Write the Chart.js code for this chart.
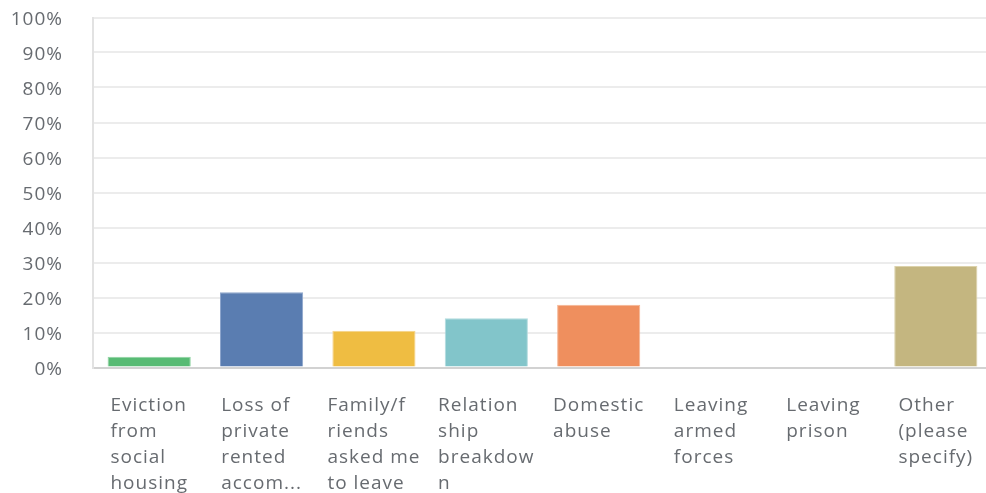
<!DOCTYPE html>
<html>
<head>
<meta charset="utf-8">
<script src="https://cdn.jsdelivr.net/npm/chart.js@4/dist/chart.umd.min.js"></script>
<style>
  html, body { margin: 0; padding: 0; background: #fff; overflow: hidden; }
  #wrap { width: 1000px; height: 493px; position: relative; }
</style>
</head>
<body>
<div id="wrap"><canvas id="reasonsChart"></canvas></div>
<script>
// answer options (already wrapped, one string per line)
const categories = [
    ['Eviction', 'from', 'social', 'housing'],
    ['Loss of', 'private', 'rented', 'accom...'],
    ['Family/f', 'riends', 'asked me', 'to leave'],
    ['Relation', 'ship', 'breakdow', 'n'],
    ['Domestic', 'abuse'],
    ['Leaving', 'armed', 'forces'],
    ['Leaving', 'prison'],
    ['Other', '(please', 'specify)']
];
const responsePct = [3.1, 21.5, 10.5, 14.1, 17.9, 0, 0, 29.0];
const barColors = ['#58bb74', '#5a7db1', '#efbd42', '#82c5ca', '#ef8f5e', '#9aa5b4', '#8e8ab8', '#c4b680'];
const barEdges = ['#8fd3a2', '#8ea7cc', '#f5d488', '#b1dbde', '#f5b796', '#c4cbd4', '#bdbad6', '#dcd2ab'];
const yTicks = [0, 10, 20, 30, 40, 50, 60, 70, 80, 90, 100];

const fontFamily = '"Open Sans", "Noto Sans", sans-serif';
const labelFont = '19px ' + fontFamily;
const textGrey = '#676b70';

// a little extra tracking for all text on the canvas
const tracking = {
    id: 'tracking',
    beforeDraw(chart) { chart.ctx.letterSpacing = '1px'; }
};

// multi-line category labels: each block left aligned, centred under its bar
const wrappedLabels = {
    id: 'wrappedLabels',
    afterDraw(chart) {
        const ctx = chart.ctx;
        const xScale = chart.scales.x;
        ctx.save();
        ctx.letterSpacing = '1px';
        ctx.font = labelFont;
        ctx.fillStyle = textGrey;
        ctx.textAlign = 'left';
        ctx.textBaseline = 'middle';
        categories.forEach((lines, i) => {
            const w = Math.max(...lines.map(l => ctx.measureText(l).width));
            const x0 = xScale.getPixelForValue(i) - w / 2;
            lines.forEach((line, k) => {
                ctx.fillText(line, x0, chart.chartArea.bottom + 38.5 + k * 26);
            });
        });
        ctx.restore();
    }
};

new Chart(document.getElementById('reasonsChart'), {
    type: 'bar',
    data: {
        labels: categories.map(c => c.join(' ')),
        datasets: [{
            data: responsePct,
            backgroundColor: barColors,
            borderColor: barEdges,
            borderWidth: 1,
            categoryPercentage: 1,
            barPercentage: 0.74
        }]
    },
    options: {
        responsive: true,
        maintainAspectRatio: false,
        animation: false,
        layout: { padding: { top: 17.5, right: 8, bottom: 0, left: 0 } },
        plugins: { legend: { display: false }, tooltip: { enabled: false } },
        scales: {
            x: {
                grid: { display: false },
                border: { display: true, color: '#d2d2d2', width: 2 },
                ticks: { display: false },
                afterFit(scale) { scale.height = 125.5; }
            },
            y: {
                min: 0,
                max: 100,
                afterBuildTicks(scale) { scale.ticks = yTicks.map(v => ({ value: v })); },
                grid: {
                    color: ctx => ctx.tick && ctx.tick.value === 0 ? 'rgba(0,0,0,0)' : '#ececec',
                    lineWidth: 2,
                    drawTicks: false
                },
                border: { display: true, color: '#e2e2e2', width: 2 },
                ticks: {
                    padding: 30,
                    labelOffset: 2.5,
                    color: textGrey,
                    font: { family: fontFamily, size: 19 },
                    callback: v => v + '%'
                },
                afterFit(scale) {
                    scale.width = 93;
                    scale.paddingTop = 0;
                    scale.paddingBottom = 0;
                }
            }
        }
    },
    plugins: [tracking, wrappedLabels]
});
</script>
</body>
</html>
